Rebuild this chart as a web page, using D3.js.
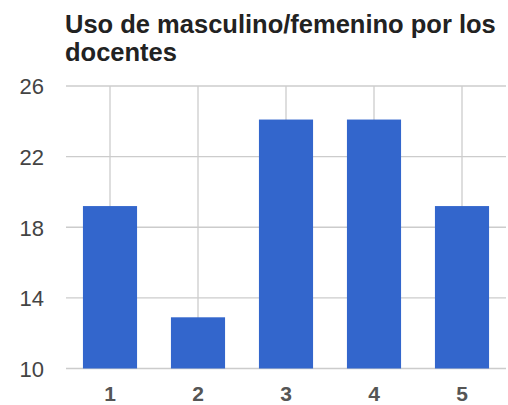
<!DOCTYPE html>
<html>
<head>
<meta charset="utf-8">
<script src="https://cdn.jsdelivr.net/npm/d3@7"></script>
<style>
  html, body { margin: 0; padding: 0; background: #fff; }
  svg { display: block; font-family: "Liberation Sans", Arial, Helvetica, sans-serif; }
</style>
</head>
<body>
<svg id="chart" width="508" height="405"></svg>
<script>
const titleLines = ["Uso de masculino/femenino por los", "docentes"];
const categories = ["1", "2", "3", "4", "5"];
const values = [19.2, 12.9, 24.1, 24.1, 19.2];
const yTicks = [10, 14, 18, 22, 26];

const svg = d3.select("#chart");
const plot = { left: 66, right: 506, top: 86, bottom: 368.5 };

const x = d3.scaleBand()
  .domain(categories)
  .range([plot.left, plot.right])
  .paddingInner(0.385)
  .paddingOuter(0.1925);

const y = d3.scaleLinear()
  .domain([10, 26])
  .range([plot.bottom, plot.top]);

// Title (two separate lines)
svg.append("g").selectAll("text").data(titleLines).join("text")
  .attr("x", 65)
  .attr("y", (d, i) => 33 + i * 28)
  .attr("fill", "#222")
  .attr("font-weight", "bold")
  .attr("font-size", 25.5)
  .text(d => d);

// Horizontal gridlines
svg.append("g").selectAll("line").data(yTicks).join("line")
  .attr("x1", plot.left).attr("x2", plot.right)
  .attr("y1", d => y(d)).attr("y2", d => y(d))
  .attr("stroke", "#cccccc").attr("stroke-width", 1.3);

// Vertical gridlines at category centers
svg.append("g").selectAll("line").data(categories).join("line")
  .attr("x1", d => x(d) + x.bandwidth() / 2).attr("x2", d => x(d) + x.bandwidth() / 2)
  .attr("y1", plot.top).attr("y2", plot.bottom)
  .attr("stroke", "#cccccc").attr("stroke-width", 1.3);

// Bars
svg.append("g").selectAll("rect").data(values).join("rect")
  .attr("x", (d, i) => x(categories[i]))
  .attr("width", x.bandwidth())
  .attr("y", d => y(d))
  .attr("height", d => y(10) - y(d))
  .attr("fill", "#3366cc");

// Y axis labels
const yAxis = d3.axisLeft(y).tickValues(yTicks).tickSize(0).tickPadding(0);
const gy = svg.append("g").attr("transform", `translate(44,0)`).call(yAxis);
gy.select(".domain").remove();
gy.selectAll("text")
  .attr("font-size", 22)
  .attr("font-family", "Liberation Sans, Arial, sans-serif")
  .attr("fill", "#444")
  .attr("dy", "0.36em");

// X axis labels
const xAxis = d3.axisBottom(x).tickSize(0).tickPadding(0);
const gx = svg.append("g").attr("transform", `translate(0,${plot.bottom})`).call(xAxis);
gx.select(".domain").remove();
gx.selectAll("text")
  .attr("font-size", 21)
  .attr("font-weight", "bold")
  .attr("font-family", "Liberation Sans, Arial, sans-serif")
  .attr("fill", "#555")
  .attr("y", 32)
  .attr("dy", 0);
</script>
</body>
</html>
